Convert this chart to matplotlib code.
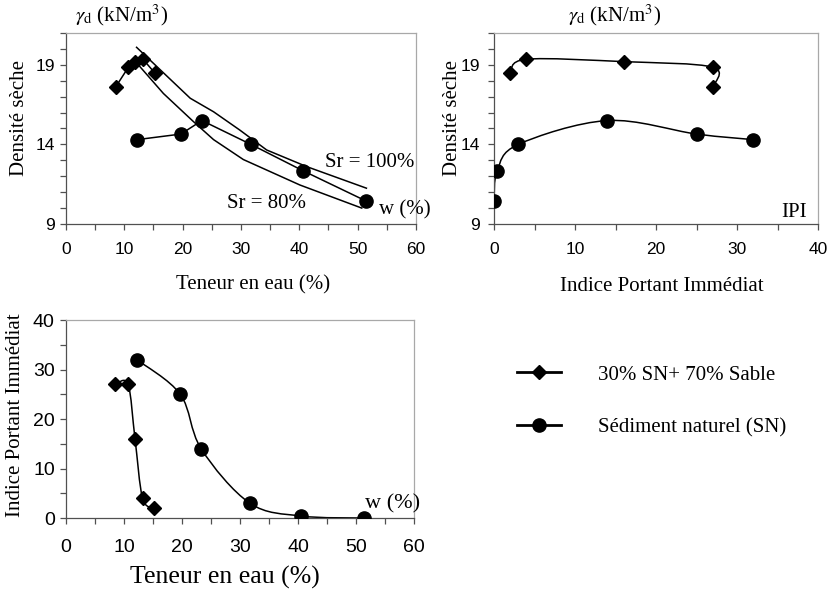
"""Compactage / IPI : 30% SN + 70% sable vs sédiment naturel."""

import matplotlib
matplotlib.use("Agg")

import matplotlib.pyplot as plt
import matplotlib.ticker as mticker
import numpy as np
from matplotlib.lines import Line2D
from matplotlib.patches import PathPatch
from matplotlib.path import Path

plt.rcParams["mathtext.fontset"] = "stix"

# ── Data ─────────────────────────────────────────────────────────────────────
# 30% SN + 70% sable
mix_w = [8.5, 10.7, 11.9, 13.2, 15.2]
mix_gd = [17.6, 18.85, 19.2, 19.35, 18.5]
mix_ipi = [27, 27, 16, 4, 2]

# Sédiment naturel (SN)
sn_w = [12.2, 19.7, 23.3, 31.7, 40.6, 51.4]
sn_gd = [14.3, 14.65, 15.5, 14.0, 12.35, 10.45]
sn_ipi = [32, 25, 14, 3, 0.4, 0]

# Saturation curves
sr100_w = [12.1, 16.7, 21.3, 25.3, 29.8, 34.4, 41.3, 51.5]
sr100_gd = [20.1, 18.5, 16.9, 16.05, 14.9, 13.65, 12.6, 11.25]
sr80_w = [12.4, 16.7, 21.8, 25.3, 30.4, 40.1, 50.7]
sr80_gd = [19.0, 17.2, 15.45, 14.3, 13.05, 11.45, 10.0]

LABEL_MIX = "30% SN+ 70% Sable"
LABEL_SN = "Sédiment naturel (SN)"

# ── Style ────────────────────────────────────────────────────────────────────
INK = "black"
SPINE_DARK = "#505050"
SPINE_LIGHT = "#a8a8a8"
SERIF = "Liberation Serif"
SANS = "Liberation Sans"
LW = 1.1
MS_D = 7.5
MS_O = 9.5
TXT = 15


def _style(ax, tick_size):
    ax.spines[["top", "right"]].set_color(SPINE_LIGHT)
    ax.spines[["left", "bottom"]].set_color(SPINE_DARK)
    for sp in ax.spines.values():
        sp.set_linewidth(0.9)
    ax.tick_params(which="both", direction="out", length=4, width=0.9,
                   color=SPINE_DARK, top=False, right=False)
    for lab in ax.get_xticklabels() + ax.get_yticklabels():
        lab.set_fontfamily(SANS)
        lab.set_fontsize(tick_size)


def _smooth(ax, x, y):
    """Excel-style smoothed line: cubic Bezier through the points (axes coords)."""
    to_axes = ax.transData + ax.transAxes.inverted()
    p = to_axes.transform(np.column_stack([x, y]))
    n = len(p)
    verts = [p[0]]
    codes = [Path.MOVETO]
    for i in range(n - 1):
        p0 = p[i - 1] if i > 0 else p[i]
        p3 = p[i + 2] if i + 2 < n else p[i + 1]
        c1 = p[i] + (p[i + 1] - p0) / 6
        c2 = p[i + 1] - (p3 - p[i]) / 6
        verts += [c1, c2, p[i + 1]]
        codes += [Path.CURVE4] * 3
    ax.add_patch(PathPatch(Path(verts, codes), fill=False, edgecolor=INK,
                           lw=LW, transform=ax.transAxes, zorder=2))


def _markers(ax, x, y, marker, ms):
    ax.plot(x, y, ls="none", marker=marker, ms=ms, color=INK, zorder=3)


def _gamma_axes(ax, x0):
    ax.set_ylim(9, 21)
    ax.yaxis.set_major_locator(mticker.FixedLocator([9, 14, 19]))
    ax.yaxis.set_minor_locator(mticker.MultipleLocator(1))
    ax.set_ylabel("Densité sèche", family=SERIF, fontsize=TXT)
    ax.text(x0, 1.025, r"$\gamma_\mathrm{d}$ (kN/m$^3$)", transform=ax.transAxes,
            family=SERIF, fontsize=TXT, ha="left", va="bottom")


fig = plt.figure(figsize=(8.3, 5.89), dpi=100, facecolor="white")
ax1 = fig.add_axes([0.0795, 0.6197, 0.4217, 0.3243])
ax2 = fig.add_axes([0.5952, 0.6197, 0.3904, 0.3243])
ax3 = fig.add_axes([0.0795, 0.1205, 0.4193, 0.3362])

# ── Top-left: dry density vs water content ───────────────────────────────────
ax1.set_xlim(0, 60)
ax1.xaxis.set_major_locator(mticker.MultipleLocator(10))
ax1.xaxis.set_minor_locator(mticker.MultipleLocator(5))
_gamma_axes(ax1, 0.025)
ax1.plot(sr100_w, sr100_gd, color=INK, lw=LW, zorder=2)
ax1.plot(sr80_w, sr80_gd, color=INK, lw=LW, zorder=2)
ax1.plot(mix_w, mix_gd, color=INK, lw=LW, marker="D", ms=MS_D, zorder=3)
ax1.plot(sn_w, sn_gd, color=INK, lw=LW, marker="o", ms=MS_O, zorder=3)
ax1.text(44.4, 12.85, "Sr = 100%", family=SERIF, fontsize=TXT, va="center")
ax1.text(27.6, 10.3, "Sr = 80%", family=SERIF, fontsize=TXT, va="center")
ax1.text(53.6, 9.9, "w (%)", family=SERIF, fontsize=TXT, va="center", clip_on=False)
ax1.set_xlabel("Teneur en eau (%)", family=SERIF, fontsize=TXT)
_style(ax1, 12.5)
ax1.tick_params(axis="x", pad=9)
ax1.tick_params(axis="y", pad=4)
ax1.yaxis.set_label_coords(-0.105, 0.555)
ax1.xaxis.set_label_coords(0.534, -0.27)

# ── Top-right: dry density vs IPI ────────────────────────────────────────────
ax2.set_xlim(0, 40)
ax2.xaxis.set_major_locator(mticker.MultipleLocator(10))
ax2.xaxis.set_minor_locator(mticker.MultipleLocator(5))
_gamma_axes(ax2, 0.228)
_smooth(ax2, mix_ipi, mix_gd)
_smooth(ax2, sn_ipi, sn_gd)
_markers(ax2, mix_ipi, mix_gd, "D", MS_D)
_markers(ax2, sn_ipi, sn_gd, "o", MS_O)
ax2.text(35.5, 9.75, "IPI", family=SERIF, fontsize=TXT, va="center")
ax2.set_xlabel("Indice Portant Immédiat", family=SERIF, fontsize=TXT)
_style(ax2, 12.5)
ax2.tick_params(axis="x", pad=9)
ax2.tick_params(axis="y", pad=6)
ax2.yaxis.set_label_coords(-0.10, 0.555)
ax2.xaxis.set_label_coords(0.519, -0.275)

# ── Bottom: IPI vs water content ─────────────────────────────────────────────
ax3.set_xlim(0, 60)
ax3.set_ylim(0, 40)
ax3.xaxis.set_major_locator(mticker.MultipleLocator(10))
ax3.xaxis.set_minor_locator(mticker.MultipleLocator(5))
ax3.yaxis.set_major_locator(mticker.MultipleLocator(10))
ax3.yaxis.set_minor_locator(mticker.MultipleLocator(5))
_smooth(ax3, mix_w, mix_ipi)
_smooth(ax3, sn_w, sn_ipi)
_markers(ax3, mix_w, mix_ipi, "D", MS_D)
_markers(ax3, sn_w, sn_ipi, "o", MS_O)
ax3.text(51.5, 2.9, "w (%)", family=SERIF, fontsize=16, va="center", clip_on=False)
ax3.set_ylabel("Indice Portant Immédiat", family=SERIF, fontsize=15)
ax3.set_xlabel("Teneur en eau (%)", family=SERIF, fontsize=18.5)
_style(ax3, 14)
ax3.tick_params(axis="x", pad=11)
ax3.tick_params(axis="y", pad=4)
ax3.yaxis.set_label_coords(-0.118, 0.52)
ax3.xaxis.set_label_coords(0.457, -0.24)

# ── Legend ───────────────────────────────────────────────────────────────────
handles = [
    Line2D([], [], color=INK, lw=2, marker="D", ms=MS_D),
    Line2D([], [], color=INK, lw=2, marker="o", ms=MS_O),
]
fig.legend(handles, [LABEL_MIX, LABEL_SN], loc="upper left",
           bbox_to_anchor=(0.623, 0.380), frameon=False, borderpad=0,
           borderaxespad=0, handlelength=2.1, handletextpad=1.8,
           labelspacing=1.6, prop={"family": SERIF, "size": 15})

fig.savefig("out.png", dpi=100, facecolor="white")
